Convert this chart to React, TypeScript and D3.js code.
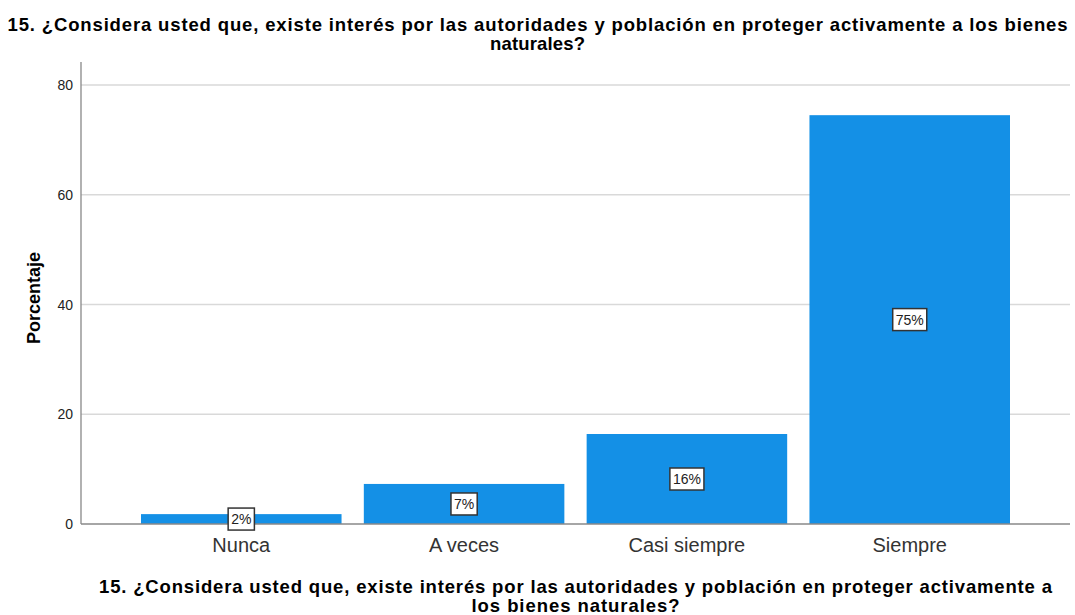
import React, { useEffect, useRef } from 'react';
import * as d3 from 'd3';

const categories = ['Nunca', 'A veces', 'Casi siempre', 'Siempre'];
const percents = [1.8, 7.3, 16.4, 74.5];
const barLabels = ['2%', '7%', '16%', '75%'];
const yTicks = [0, 20, 40, 60, 80];
const titleLines = [
  '15. ¿Considera usted que, existe interés por las autoridades y población en proteger activamente a los bienes',
  'naturales?',
];
const titleWidths = [1060, 95];
const xTitleLines = [
  '15. ¿Considera usted que, existe interés por las autoridades y población en proteger activamente a',
  'los bienes naturales?',
];
const xTitleWidths = [953, 208];

const W = 1075;
const H = 615;
const font = '"Liberation Sans", Arial, sans-serif';

export default function App() {
  const ref = useRef<SVGSVGElement>(null);

  useEffect(() => {
    const svg = d3.select(ref.current);
    svg.selectAll('*').remove();

    const axisLeft = 81;
    const axisRight = 1070;
    const top = 62;
    const y = d3.scaleLinear().domain([0, 80]).range([524, 85]);
    const x = d3.scaleBand<string>()
      .domain(categories)
      .range([141, 1010])
      .paddingInner(0.1)
      .paddingOuter(0);

    // title
    svg.append('g')
      .selectAll('text')
      .data(titleLines)
      .enter()
      .append('text')
      .attr('x', W / 2)
      .attr('y', (d, i) => 31 + i * 19)
      .attr('text-anchor', 'middle')
      .attr('font-family', font)
      .attr('font-weight', 'bold')
      .attr('font-size', 18.5)
      .attr('textLength', (d, i) => titleWidths[i])
      .attr('lengthAdjust', 'spacing')
      .attr('fill', '#000')
      .text(d => d);

    // gridlines
    svg.append('g')
      .selectAll('line')
      .data(yTicks.filter(t => t > 0))
      .enter()
      .append('line')
      .attr('x1', axisLeft)
      .attr('x2', axisRight)
      .attr('y1', d => y(d))
      .attr('y2', d => y(d))
      .attr('stroke', '#d9d9d9')
      .attr('stroke-width', 1.5);

    // bars
    svg.append('g')
      .selectAll('rect')
      .data(percents)
      .enter()
      .append('rect')
      .attr('x', (d, i) => x(categories[i])!)
      .attr('y', d => y(d))
      .attr('width', x.bandwidth())
      .attr('height', d => y(0) - y(d))
      .attr('fill', '#1490e6');

    // axes
    svg.append('line')
      .attr('x1', axisLeft).attr('x2', axisLeft)
      .attr('y1', top).attr('y2', y(0))
      .attr('stroke', '#888').attr('stroke-width', 1.3);
    svg.append('line')
      .attr('x1', axisLeft).attr('x2', axisRight)
      .attr('y1', y(0)).attr('y2', y(0))
      .attr('stroke', '#888').attr('stroke-width', 1.3);

    // y tick labels
    svg.append('g')
      .selectAll('text')
      .data(yTicks)
      .enter()
      .append('text')
      .attr('x', axisLeft - 8)
      .attr('y', d => y(d) + 5)
      .attr('text-anchor', 'end')
      .attr('font-family', font)
      .attr('font-size', 14)
      .attr('fill', '#222')
      .text(d => d);

    // y title
    svg.append('text')
      .attr('transform', `translate(40, ${(top + y(0)) / 2 + 5}) rotate(-90)`)
      .attr('text-anchor', 'middle')
      .attr('font-family', font)
      .attr('font-weight', 'bold')
      .attr('font-size', 18)
      .attr('fill', '#000')
      .text('Porcentaje');

    // category labels
    svg.append('g')
      .selectAll('text')
      .data(categories)
      .enter()
      .append('text')
      .attr('x', d => x(d)! + x.bandwidth() / 2)
      .attr('y', 552)
      .attr('text-anchor', 'middle')
      .attr('font-family', font)
      .attr('font-size', 20)
      .attr('fill', '#333')
      .text(d => d);

    // value labels in boxes
    const lab = svg.append('g')
      .selectAll('g')
      .data(percents)
      .enter()
      .append('g')
      .attr('transform', (d, i) =>
        `translate(${x(categories[i])! + x.bandwidth() / 2}, ${y(d / 2)})`);
    const rects = lab.append('rect')
      .attr('fill', '#fff')
      .attr('stroke', '#333')
      .attr('stroke-width', 1.5);
    const texts = lab.append('text')
      .attr('y', 5)
      .attr('text-anchor', 'middle')
      .attr('font-family', font)
      .attr('font-size', 14)
      .attr('fill', '#222')
      .text((d, i) => barLabels[i]);
    texts.each(function (d, i) {
      const w = (this as SVGTextElement).getComputedTextLength() + 6;
      d3.select(rects.nodes()[i])
        .attr('x', -w / 2)
        .attr('y', -11)
        .attr('width', w)
        .attr('height', 22);
    });

    // x title
    svg.append('g')
      .selectAll('text')
      .data(xTitleLines)
      .enter()
      .append('text')
      .attr('x', (axisLeft + axisRight) / 2)
      .attr('y', (d, i) => 593 + i * 19)
      .attr('text-anchor', 'middle')
      .attr('font-family', font)
      .attr('font-weight', 'bold')
      .attr('font-size', 18.5)
      .attr('textLength', (d, i) => xTitleWidths[i])
      .attr('lengthAdjust', 'spacing')
      .attr('fill', '#000')
      .text(d => d);
  }, []);

  return (
    <svg ref={ref} width={W} height={H}
      style={{ position: 'absolute', left: 0, top: 0, background: '#fff' }} />
  );
}
